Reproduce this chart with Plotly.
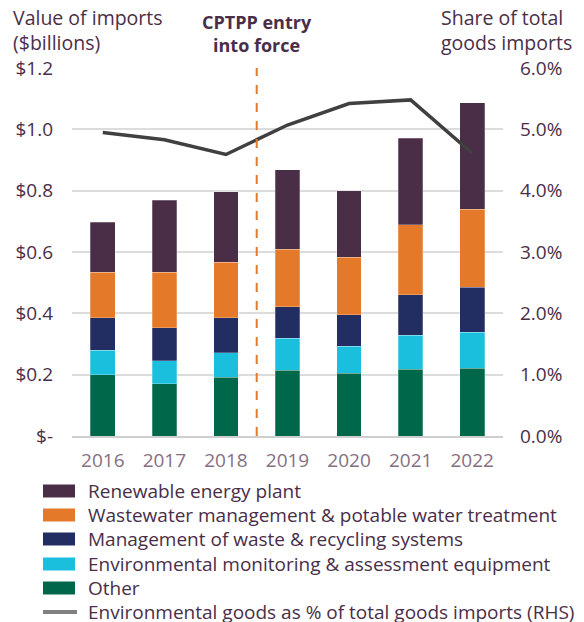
import plotly.graph_objects as go

years = ["2016", "2017", "2018", "2019", "2020", "2021", "2022"]
other = [0.200, 0.170, 0.192, 0.214, 0.204, 0.217, 0.221]
env_monitoring = [0.080, 0.075, 0.079, 0.105, 0.088, 0.111, 0.117]
waste_recycling = [0.106, 0.108, 0.115, 0.102, 0.104, 0.132, 0.147]
wastewater = [0.148, 0.181, 0.180, 0.188, 0.187, 0.229, 0.255]
renewable = [0.163, 0.234, 0.231, 0.259, 0.217, 0.282, 0.347]
share_pct = [4.95, 4.83, 4.59, 5.07, 5.42, 5.48, 4.61]

left_tickvals = [0, 0.2, 0.4, 0.6, 0.8, 1.0, 1.2]
left_ticktext = ["$-", "$0.2", "$0.4", "$0.6", "$0.8", "$1.0", "$1.2"]
right_tickvals = [0, 1, 2, 3, 4, 5, 6]
right_ticktext = ["0.0%", "1.0%", "2.0%", "3.0%", "4.0%", "5.0%", "6.0%"]

series_names = ["Other",
                "Environmental monitoring & assessment equipment",
                "Management of waste & recycling systems",
                "Wastewater management & potable water treatment",
                "Renewable energy plant"]
series_values = [other, env_monitoring, waste_recycling, wastewater, renewable]
series_colors = ["#00684A", "#1BBFDE", "#222D62", "#E5792A", "#4A2E48"]
line_name = "Environmental goods as % of total goods imports (RHS)"
line_color = "#404040"
line_legend_color = "#808080"

FONT = "Open Sans"
DARK = "#4A2E48"
FS = 19

# The page body has an 8px default margin, so the figure is drawn 8px in.
OFF = 8
W, H = 584 - OFF, 622 - OFF
PLOT_L, PLOT_R, PLOT_T, PLOT_B = 72, 503, 68, 436   # screen pixels
L, T = PLOT_L - OFF, PLOT_T - OFF
R, B = W - (PLOT_R - OFF), H - (PLOT_B - OFF)
PW, PH = W - L - R, H - T - B


def px_x(sx):
    return (sx - OFF - L) / PW


def px_y(sy):
    return (H - B - (sy - OFF)) / PH


fig = go.Figure()
for name, vals, col in zip(series_names, series_values, series_colors):
    fig.add_trace(go.Bar(x=years, y=vals, name=name, marker_color=col,
                         marker_line=dict(color="rgba(255,255,255,0.5)", width=0.5),
                         width=0.4, showlegend=False))

fig.add_trace(go.Scatter(x=years, y=share_pct, yaxis="y2", mode="lines",
                         name=line_name, line=dict(color=line_color, width=3.5),
                         showlegend=False))

# CPTPP marker line between 2018 and 2019
fig.add_shape(type="line", xref="x", yref="paper", x0=2.5, x1=2.5, y0=0, y1=1,
              line=dict(color="#E5792A", width=2, dash="dash"))

fig.add_annotation(text="<b>CPTPP entry<br>into force</b>", xref="paper", yref="paper",
                   x=px_x(257), y=px_y(8), xanchor="center", yanchor="top",
                   showarrow=False, align="center",
                   font=dict(family=FONT, size=18, color=DARK))
fig.add_annotation(text="Value of imports<br>($billions)", xref="paper", yref="paper",
                   x=px_x(11), y=px_y(2), xanchor="left", yanchor="top",
                   showarrow=False, align="left",
                   font=dict(family=FONT, size=19.5, color=DARK))
fig.add_annotation(text="Share of total<br>goods imports", xref="paper", yref="paper",
                   x=px_x(439), y=px_y(2), xanchor="left", yanchor="top",
                   showarrow=False, align="left",
                   font=dict(family=FONT, size=19.5, color=DARK))

# legend (top to bottom: reverse of stacking order, then line)
legend_rows = list(zip(series_names[::-1], series_colors[::-1]))
row_y = [491, 515, 539, 564, 588]
for (name, col), yc in zip(legend_rows, row_y):
    fig.add_shape(type="rect", xref="paper", yref="paper",
                  x0=px_x(43), x1=px_x(75), y0=px_y(yc - 6.5), y1=px_y(yc + 6.5),
                  fillcolor=col, line=dict(width=0))
    fig.add_annotation(text=name, xref="paper", yref="paper",
                       x=px_x(86), y=px_y(yc), xanchor="left", yanchor="middle",
                       showarrow=False, font=dict(family=FONT, size=FS, color=DARK))
fig.add_shape(type="line", xref="paper", yref="paper",
              x0=px_x(43), x1=px_x(77), y0=px_y(612), y1=px_y(612),
              line=dict(color=line_legend_color, width=4))
fig.add_annotation(text=line_name, xref="paper", yref="paper",
                   x=px_x(86), y=px_y(612), xanchor="left", yanchor="middle",
                   showarrow=False, font=dict(family=FONT, size=FS, color=DARK))

fig.update_layout(
    width=W, height=H,
    margin=dict(l=L, r=R, t=T, b=B),
    barmode="stack", showlegend=False,
    plot_bgcolor="white", paper_bgcolor="white",
    font=dict(family=FONT, size=FS, color=DARK),
    xaxis=dict(type="category", range=[-0.5, 6.5], showgrid=False,
               showline=True, linecolor="#CFCFCF", linewidth=2,
               tickfont=dict(size=FS, color="#85707F"), ticks="",
               ticklabelstandoff=6, automargin=False),
    yaxis=dict(range=[0, 1.2], tickvals=left_tickvals, ticktext=left_ticktext,
               showgrid=True, gridcolor="#DCDCDC", gridwidth=1.5, zeroline=False,
               tickfont=dict(size=FS, color=DARK), ticks="",
               ticklabelstandoff=18, automargin=False),
    yaxis2=dict(range=[0, 6], overlaying="y", side="right",
                tickvals=right_tickvals, ticktext=right_ticktext,
                showgrid=False, zeroline=False, ticks="",
                ticklabelstandoff=16, automargin=False,
                tickfont=dict(size=FS, color=DARK)),
)

fig.write_html("out.html")
